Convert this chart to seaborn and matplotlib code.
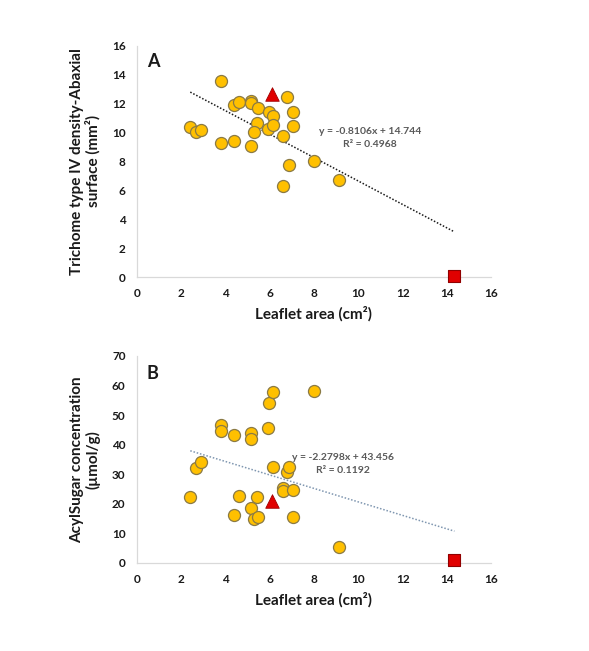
import matplotlib
matplotlib.use("Agg")
import matplotlib.pyplot as plt
import seaborn as sns
import numpy as np
import pandas as pd

# ---- data ----
x_a = [3.81, 2.42, 2.68, 2.89, 3.81, 4.38, 4.61, 4.38, 5.18, 5.18, 5.46, 5.42, 5.31,
       5.18, 5.95, 6.17, 5.92, 6.14, 6.61, 6.80, 7.06, 7.04, 6.89, 8.02, 6.59, 9.14]
y_a = [13.55, 10.34, 10.02, 10.15, 9.27, 11.87, 12.10, 9.38, 12.20, 12.01, 11.69, 10.64, 10.02,
       9.05, 11.39, 11.14, 10.22, 10.50, 9.74, 12.47, 11.39, 10.41, 7.77, 8.05, 6.30, 6.69]
x_b = [2.42, 2.68, 2.89, 3.81, 3.81, 4.38, 4.38, 4.61, 5.18, 5.18, 5.18, 5.31, 5.46,
       5.42, 5.95, 5.92, 6.14, 6.17, 6.61, 6.59, 6.80, 6.89, 7.06, 7.06, 8.02, 9.14]
y_b = [22.2, 32.0, 34.0, 46.8, 44.5, 43.2, 16.3, 22.5, 43.8, 42.0, 18.6, 14.9, 15.4,
       22.2, 54.2, 45.7, 57.8, 32.5, 25.5, 24.5, 30.6, 32.6, 24.8, 15.4, 58.1, 5.5]
tri_x, tri_y_a, tri_y_b = [6.11], [12.68], [20.9]
sq_x, sq_y_a, sq_y_b = [14.34], [0.05], [1.1]
fit_a = (-0.8106, 14.744, 0.4968)
fit_b = (-2.2798, 43.456, 0.1192)
x_ticks = [0, 2, 4, 6, 8, 10, 12, 14, 16]
y_ticks_a = [0, 2, 4, 6, 8, 10, 12, 14, 16]
y_ticks_b = [0, 10, 20, 30, 40, 50, 60, 70]

sns.set_style("white")
plt.rcParams['font.family'] = ['Lato', 'DejaVu Sans']

fig = plt.figure(figsize=(5.89, 6.51), dpi=100)
ax_a = fig.add_axes([0.232, 0.5745, 0.602, 0.3555])
ax_b = fig.add_axes([0.232, 0.1352, 0.602, 0.318])

circ_face = "#FFC000"
circ_edge = "#8a7a45"
red = "#E00000"

def panel(ax, xs, ys, ty, sy, fit, line_color, yticks, ylabel, letter, letter_y,
          txt_x, txt_y, r_y):
    df = pd.DataFrame({"x": xs, "y": ys})
    sns.scatterplot(data=df, x="x", y="y", ax=ax, s=75, color=circ_face,
                    edgecolor=circ_edge, linewidth=0.9, zorder=3)
    sns.scatterplot(x=tri_x, y=ty, ax=ax, marker="^", s=95, color=red,
                    edgecolor="#a00000", linewidth=0.6, zorder=4)
    sns.scatterplot(x=sq_x, y=sy, ax=ax, marker="s", s=80, color=red,
                    edgecolor="#900000", linewidth=0.8, zorder=4, clip_on=False)
    allx = list(xs) + tri_x + sq_x
    lx = np.array([min(allx), max(allx)])
    sns.lineplot(x=lx, y=fit[0] * lx + fit[1], ax=ax, color=line_color,
                 linestyle=(0, (1, 1.2)), linewidth=1.1, zorder=2)
    ax.set_xlim(0, 16)
    ax.set_ylim(yticks[0], yticks[-1])
    ax.set_xticks(x_ticks)
    ax.set_yticks(yticks)
    for s in ["top", "right"]:
        ax.spines[s].set_visible(False)
    for s in ["left", "bottom"]:
        ax.spines[s].set_color("#d9d9d9")
        ax.spines[s].set_linewidth(0.9)
    ax.tick_params(axis="both", direction="out", length=4, width=0.8, color="#d9d9d9",
                   labelsize=8.5, labelcolor="#1a1a1a", pad=4)
    for lab in ax.get_xticklabels() + ax.get_yticklabels():
        lab.set_fontweight("bold")
    ax.set_xlabel("Leaflet area (cm²)", fontsize=11, fontweight="bold", color="#1a1a1a", labelpad=5)
    ax.set_ylabel(ylabel, fontsize=11, fontweight="bold", color="#1a1a1a", labelpad=8,
                  linespacing=1.1)
    ax.text(0.45, letter_y, letter, fontsize=13, fontweight="bold", color="#1a1a1a",
            va="center", ha="left")
    ax.text(txt_x, txt_y, f"y = {fit[0]:.4f}x + {fit[1]:.3f}", fontsize=7.5,
            fontweight="bold", color="#595959", ha="center", va="center")
    ax.text(txt_x, r_y, f"R² = {fit[2]:.4f}", fontsize=7.5,
            fontweight="bold", color="#595959", ha="center", va="center")
    if ax.get_legend():
        ax.get_legend().remove()

panel(ax_a, x_a, y_a, tri_y_a, sq_y_a, fit_a, "#1a1a1a", y_ticks_a,
      "Trichome type IV density-Abaxial\nsurface (mm²)", "A", 14.9, 10.54, 10.06, 9.17)
panel(ax_b, x_b, y_b, tri_y_b, sq_y_b, fit_b, "#7f96b0", y_ticks_b,
      "AcylSugar concentration\n(µmol/g)", "B", 64.0, 9.33, 35.8, 31.4)

fig.savefig("out.png", dpi=100)
